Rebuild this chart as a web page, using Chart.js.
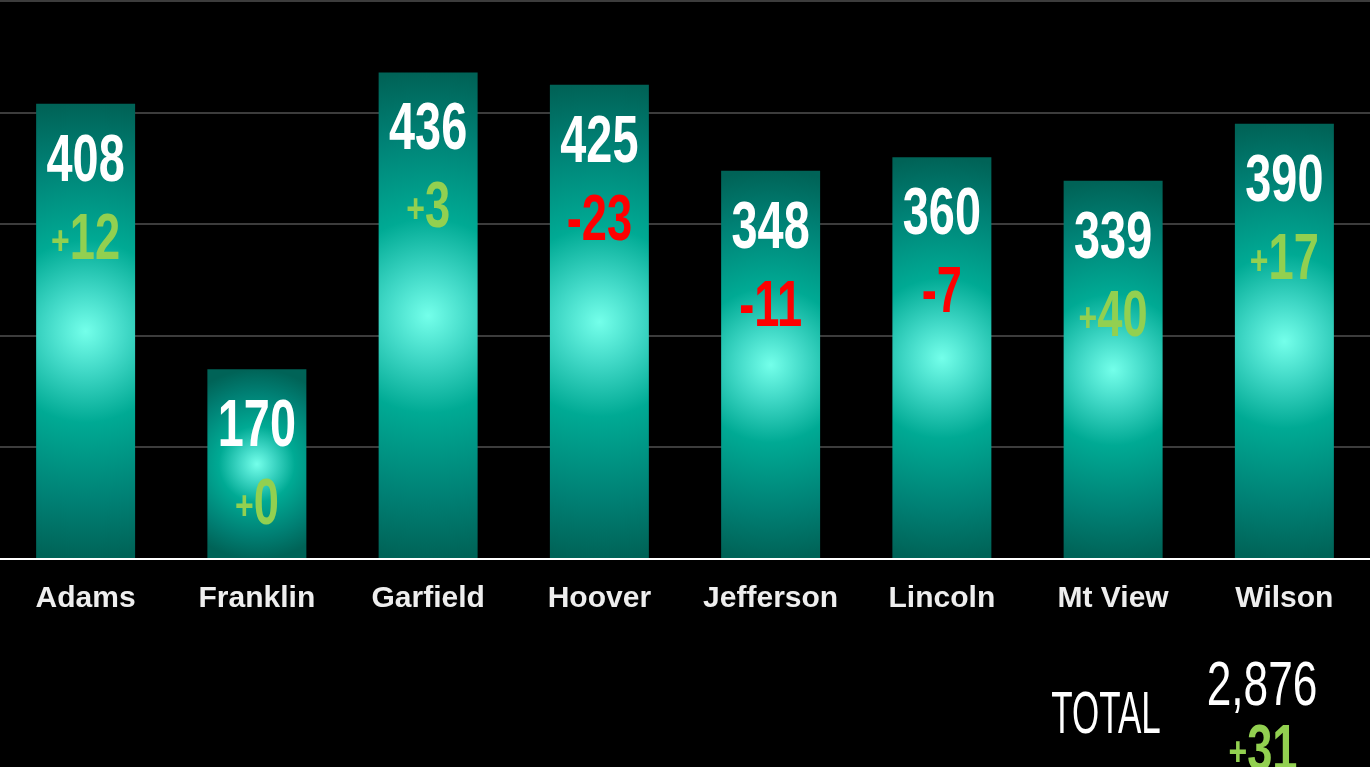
<!DOCTYPE html>
<html>
<head>
<meta charset="utf-8">
<script src="https://cdn.jsdelivr.net/npm/chart.js@4"></script>
<style>
  html, body { margin: 0; padding: 0; background: #000; }
  #wrap { width: 1370px; height: 767px; position: relative; }
</style>
</head>
<body>
<div id="wrap"><canvas id="schoolChart"></canvas></div>
<script>
// Enrollment by school, with change since last count

const schools = ['Adams', 'Franklin', 'Garfield', 'Hoover', 'Jefferson', 'Lincoln', 'Mt View', 'Wilson'];
const enrolled = [408, 170, 436, 425, 348, 360, 339, 390];
const change = [12, 0, 3, -23, -11, -7, 40, 17];
const yTicks = [0, 100, 200, 300, 400, 500];

const GREEN = '#92D050';
const RED = '#FF0000';
const FONT = '"Liberation Sans", Arial, sans-serif';

// condensed, tall text (no condensed web font offline, so squeeze it)
function drawTall(ctx, text, x, baseline, size, sx, sy, color, align, weight) {
    ctx.save();
    ctx.translate(x, baseline);
    ctx.scale(sx, sy);
    ctx.font = `${weight || 'bold'} ${size}px ${FONT}`;
    ctx.fillStyle = color;
    ctx.textAlign = align || 'center';
    ctx.textBaseline = 'alphabetic';
    ctx.fillText(text, 0, 0);
    ctx.restore();
}

function tallWidth(ctx, text, size, sx) {
    ctx.save();
    ctx.font = `bold ${size}px ${FONT}`;
    const w = ctx.measureText(text).width * sx;
    ctx.restore();
    return w;
}

// change figure: small "+" in front of positives, plain hyphen for negatives
function drawChange(ctx, n, x, baseline) {
    const color = n >= 0 ? GREEN : RED;
    if (n < 0) {
        drawTall(ctx, '-' + Math.abs(n).toLocaleString('en-US'), x, baseline, 58, 0.78, 1.12, color);
        return;
    }
    const digits = n.toLocaleString('en-US');
    const pw = tallWidth(ctx, '+', 40, 0.8);
    const dw = tallWidth(ctx, digits, 58, 0.78);
    const left = x - (pw + dw) / 2;
    drawTall(ctx, '+', left, baseline - 5, 40, 0.8, 1.0, color, 'left');
    drawTall(ctx, digits, left + pw, baseline, 58, 0.78, 1.12, color, 'left');
}

// radial glow centred on each bar
function barGradient(c) {
    const chart = c.chart;
    const xs = chart.scales.x, ys = chart.scales.y;
    if (!xs || !ys || c.type !== 'data') return '#00AA94';
    const x = xs.getPixelForValue(c.dataIndex);
    const top = ys.getPixelForValue(c.raw);
    const base = ys.getPixelForValue(0);
    if (![x, top, base].every(Number.isFinite) || base <= top) return '#00AA94';
    const cy = (top + base) / 2;
    const r = (base - top) / 2;
    const g = chart.ctx.createRadialGradient(x, cy, 0, x, cy, r);
    g.addColorStop(0, '#74FFEA');
    g.addColorStop(0.18, '#40D8C6');
    g.addColorStop(0.4, '#00AA94');
    g.addColorStop(0.75, '#008074');
    g.addColorStop(1, '#006357');
    return g;
}

// value + change labels inside bars, and the total bottom right
const barText = {
    id: 'barText',
    afterDatasetsDraw(chart) {
        const ctx = chart.ctx;
        chart.getDatasetMeta(0).data.forEach((bar, i) => {
            drawTall(ctx, enrolled[i].toLocaleString('en-US'), bar.x, bar.y + 77, 60, 0.78, 1.12, '#FFFFFF');
            drawChange(ctx, change[i], bar.x, bar.y + 155);
        });

        const total = enrolled.reduce((s, v) => s + v, 0);
        const totalChange = change.reduce((s, v) => s + v, 0);
        drawTall(ctx, 'TOTAL', 1106, 733, 50, 0.7, 1.2, '#FFFFFF', 'center', 'normal');
        drawTall(ctx, total.toLocaleString('en-US'), 1262, 705, 56, 0.79, 1.12, '#FFFFFF', 'center', 'normal');
        drawChange(ctx, totalChange, 1263, 770);
    }
};

const ctx = document.getElementById('schoolChart').getContext('2d');
new Chart(ctx, {
    type: 'bar',
    data: {
        labels: schools,
        datasets: [{
            data: enrolled,
            backgroundColor: barGradient,
            borderWidth: 0,
            categoryPercentage: 1,
            barPercentage: 0.578
        }]
    },
    options: {
        responsive: true,
        maintainAspectRatio: false,
        animation: false,
        layout: { padding: { top: 1, left: 0, right: 0, bottom: 0 } },
        plugins: {
            legend: { display: false },
            tooltip: { enabled: false }
        },
        scales: {
            y: {
                min: yTicks[0],
                max: yTicks[yTicks.length - 1],
                afterBuildTicks: scale => {
                    scale.ticks = yTicks.map(v => ({ value: v }));
                },
                ticks: { display: false },
                border: { display: false },
                grid: { color: '#3c3c3c', lineWidth: 2, drawTicks: false }
            },
            x: {
                afterFit: scale => { scale.height = 208; },
                grid: { display: false, drawTicks: false },
                border: { display: true, color: '#FFFFFF', width: 2 },
                ticks: {
                    color: '#EEEEEE',
                    padding: 22,
                    font: { family: FONT, size: 30, weight: 'bold' }
                }
            }
        }
    },
    plugins: [barText]
});
</script>
</body>
</html>
